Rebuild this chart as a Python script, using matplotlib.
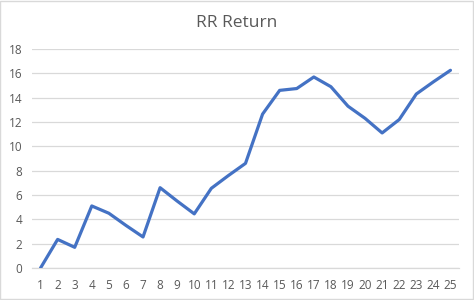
import matplotlib
matplotlib.use("Agg")
import matplotlib.pyplot as plt
from matplotlib.patches import Rectangle

plt.rcParams['font.family'] = ['Open Sans', 'DejaVu Sans']

# data
periods = list(range(1, 26))
rr_return = [0.0, 2.35, 1.7, 5.1, 4.5, 3.5, 2.55, 6.6, 5.5, 4.45,
             6.55, 7.6, 8.6, 12.65, 14.6, 14.75, 15.7, 14.9, 13.3, 12.3,
             11.1, 12.2, 14.3, 15.3, 16.25]
yticks = list(range(0, 19, 2))

fig = plt.figure(figsize=(4.74, 3.0), dpi=100)
ax = fig.add_axes([32 / 474, 32 / 300, 427 / 474, 219 / 300])

ax.plot(periods, rr_return, color='#4472C4', linewidth=2.3,
        solid_joinstyle='round', solid_capstyle='round', zorder=3)

ax.set_xlim(0.5, 25.5)
ax.set_ylim(0, 18)
ax.set_xticks(periods)
ax.set_yticks(yticks)
ax.tick_params(axis='both', length=0, labelsize=8.5, labelcolor='#595959')
ax.tick_params(axis='x', pad=8)
ax.tick_params(axis='y', pad=7)

ax.grid(axis='y', color='#D9D9D9', linewidth=0.9)
ax.set_axisbelow(True)
for side in ['top', 'right', 'left']:
    ax.spines[side].set_visible(False)
ax.spines['bottom'].set_color('#D9D9D9')
ax.spines['bottom'].set_linewidth(0.9)

fig.text(0.5, 1 - 23 / 300, "RR Return", ha='center', va='center',
         fontsize=12.5, color='#595959')

# chart area border
fig.patches.append(Rectangle((0.001, 0.002), 0.997, 0.995, transform=fig.transFigure,
                             fill=False, edgecolor='#D9D9D9', linewidth=1))

fig.savefig("out.png", dpi=100)
